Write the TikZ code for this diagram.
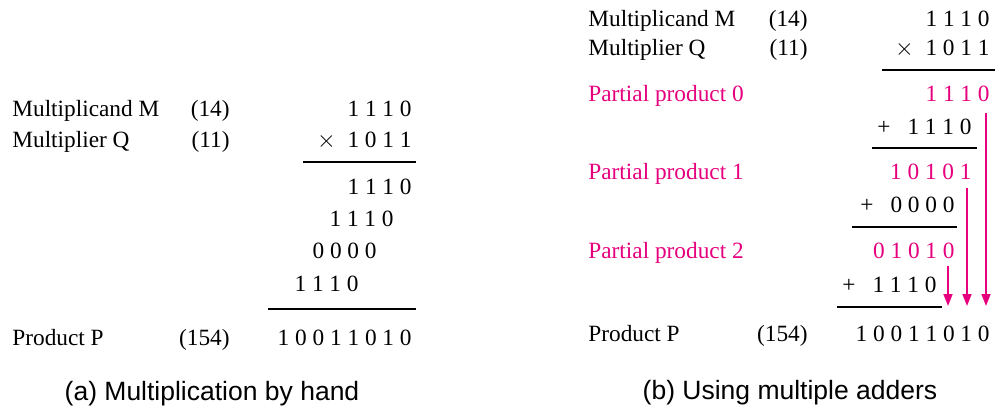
\documentclass[tikz,border=0pt]{standalone}
\usepackage{fontspec}
\setmainfont{Liberation Serif}
\newfontfamily\capfont{Liberation Sans}
\usepackage{tikz}
\usetikzlibrary{arrows.meta}
\definecolor{partpink}{RGB}{230,0,126}
\newcommand{\opgap}{\hspace{0.73em}}
\newcommand{\timesop}{$\times$\hspace{0.5em}}

\begin{document}
\begin{tikzpicture}[x=0.5pt, y=-0.5pt,
    txt/.style={inner sep=0pt, font=\fontsize{11.65}{14}\selectfont},
    lbl/.style={txt, anchor=base west},
    num/.style={txt, anchor=base east},
    part/.style={text=partpink},
    rule/.style={line width=1pt},
    carry/.style={draw=partpink, line width=0.75pt,
                  -{Triangle[length=6pt, width=4.5pt]}},
    caption/.style={inner sep=0pt, anchor=base,
                    font=\capfont\fontsize{13.25}{16}\selectfont}]
  \useasboundingbox (0,0) rectangle (999,409);

  % (a) by hand
  \node[lbl] (aM)   at (12,116) {Multiplicand M};
  \node[lbl] (aQ)   at (12,147) {Multiplier Q};
  \node[lbl] (aP)   at (12,345) {Product P};
  \node[num] (aMv)  at (230,116) {(14)};
  \node[num] (aQv)  at (230,147) {(11)};
  \node[num] (aPv)  at (230,345) {(154)};
  \node[num] (aMb)  at (412,116) {1 1 1 0};
  \node[num] (aQb)  at (412,147) {\timesop1 0 1 1};
  \draw[rule] (303,162) -- (416,162);
  \node[num] (aR0)  at (412,194) {1 1 1 0};
  \node[num] (aR1)  at (394,226) {1 1 1 0};
  \node[num] (aR2)  at (377,258) {0 0 0 0};
  \node[num] (aR3)  at (359,291) {1 1 1 0};
  \draw[rule] (268,309) -- (416,309);
  \node[num] (aPb)  at (412,345) {1 0 0 1 1 0 1 0};
  \node[caption] (acap) at (212,400) {(a) Multiplication by hand};

  % (b) multiple adders
  \node[lbl] (bM)   at (588,26) {Multiplicand M};
  \node[lbl] (bQ)   at (588,55) {Multiplier Q};
  \node[lbl, part] (bpp0) at (588,101) {Partial product 0};
  \node[lbl, part] (bpp1) at (588,179) {Partial product 1};
  \node[lbl, part] (bpp2) at (588,258) {Partial product 2};
  \node[lbl] (bP)   at (588,341) {Product P};
  \node[num] (bMv)  at (808,26) {(14)};
  \node[num] (bQv)  at (808,55) {(11)};
  \node[num] (bPv)  at (808,341) {(154)};
  \node[num] (bMb)  at (990,26) {1 1 1 0};
  \node[num] (bQb)  at (990,55) {\timesop1 0 1 1};
  \draw[rule] (882,70) -- (995,70);
  \node[num, part] (bS0) at (990,101) {1 1 1 0};
  \node[num] (bA1)  at (972,134) {+\opgap1 1 1 0};
  \draw[rule] (872,148) -- (977,148);
  \node[num, part] (bS1) at (972,179) {1 0 1 0 1};
  \node[num] (bA2)  at (955,212) {+\opgap0 0 0 0};
  \draw[rule] (852,227) -- (957,227);
  \node[num, part] (bS2) at (955,258) {0 1 0 1 0};
  \node[num] (bA3)  at (937,292) {+\opgap1 1 1 0};
  \draw[rule] (837,307) -- (942,307);
  \node[num] (bPb)  at (990,341) {1 0 0 1 1 0 1 0};
  \node[caption] (bcap) at (790,399) {(b) Using multiple adders};

  \coordinate (c0) at (986,113);
  \coordinate (c1) at (967,188);
  \coordinate (c2) at (948,266);
  \coordinate (e0) at (986,306);
  \coordinate (e1) at (967,306);
  \coordinate (e2) at (948,306);
  \draw[carry] (c0) -- (e0);
  \draw[carry] (c1) -- (e1);
  \draw[carry] (c2) -- (e2);
\end{tikzpicture}
\end{document}
